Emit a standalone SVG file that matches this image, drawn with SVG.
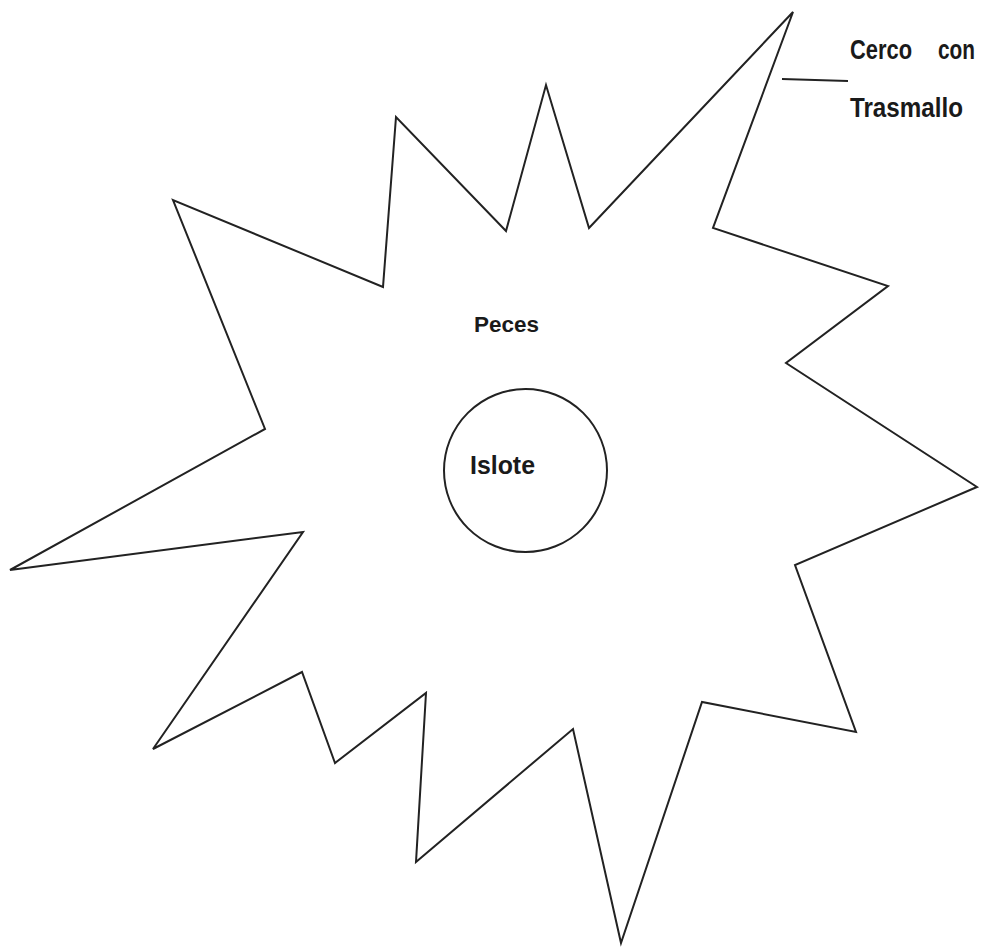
<svg xmlns="http://www.w3.org/2000/svg" width="982" height="948" viewBox="0 0 982 948">
<style>
.ln{fill:none;stroke:#222;stroke-width:2;stroke-linejoin:miter}
.t{font-family:"Liberation Sans",Arial,sans-serif;fill:#1a1a1a;font-weight:bold}
</style>
<rect width="982" height="948" fill="#fff"/>
<g id="cerco">
<polygon class="ln" points="793,12 713,228 888,286 786,363 977,487 795,565 856,732 702,702 621,943 573,729 416,862 426,693 335,763 302,672 153,749 303,532 10,570 265,429 173,200 383,287 396,117 506,231 546,85 589,228"/>
</g>
<g id="islote">
<circle class="ln" cx="525.5" cy="470.5" r="81.5"/>
<text class="t" x="470" y="474" font-size="26" textLength="65" lengthAdjust="spacingAndGlyphs">Islote</text>
</g>
<g id="peces">
<text class="t" x="474" y="332" font-size="22" textLength="65" lengthAdjust="spacingAndGlyphs">Peces</text>
</g>
<g id="connectors">
<line class="ln" x1="782" y1="79" x2="848" y2="81" stroke-width="1.5"/>
</g>
<g id="label">
<text class="t" x="850" y="59" font-size="28" textLength="62" lengthAdjust="spacingAndGlyphs">Cerco</text>
<text class="t" x="938" y="59" font-size="28" textLength="37" lengthAdjust="spacingAndGlyphs">con</text>
<text class="t" x="850" y="117" font-size="28" textLength="113" lengthAdjust="spacingAndGlyphs">Trasmallo</text>
</g>
</svg>
